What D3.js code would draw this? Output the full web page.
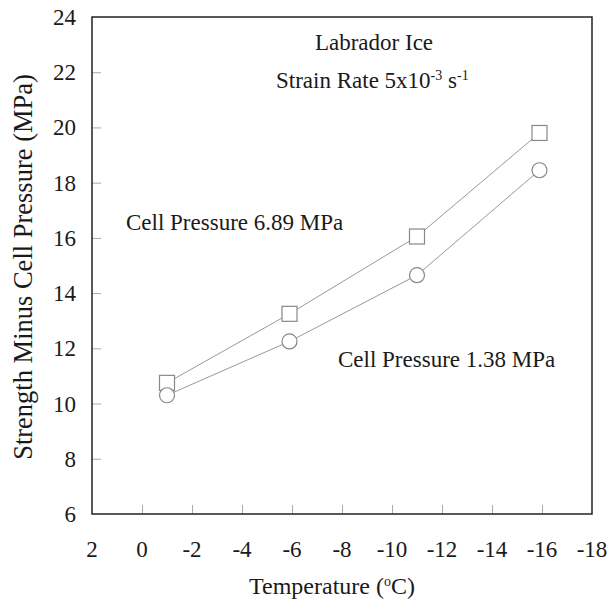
<!DOCTYPE html>
<html>
<head>
<meta charset="utf-8">
<script src="https://cdn.jsdelivr.net/npm/d3@7"></script>
<style>
  body { margin: 0; background: #fff; }
</style>
</head>
<body>
<div id="chart"></div>
<script>
// temperatures (deg C) of the tests
var temps = [-1, -5.9, -11, -15.9];
// strength minus cell pressure (MPa)
var highCell = [10.75, 13.25, 16.05, 19.8]; // cell pressure 6.89 MPa, squares
var lowCell = [10.3, 12.25, 14.65, 18.45];  // cell pressure 1.38 MPa, circles

var xTicks = [2, 0, -2, -4, -6, -8, -10, -12, -14, -16, -18];
var yTicks = [6, 8, 10, 12, 14, 16, 18, 20, 22, 24];

var width = 608;
var height = 603;
var fontSize = 23;

var svg = d3
  .select("#chart")
  .append("svg")
  .attr("width", width)
  .attr("height", height)
  .attr("font-family", "'Liberation Serif', 'Times New Roman', 'DejaVu Serif', serif")
  .attr("fill", "#1a1a1a");

var x = d3.scaleLinear().domain([2, -18]).range([92, 592]);
var y = d3.scaleLinear().domain([6, 24]).range([514, 17]);

// inner tick marks, light grey
var xAxis = d3.axisTop(x).tickValues(xTicks.slice(1, -1)).tickSize(9).tickFormat("");
var yAxis = d3.axisRight(y).tickValues(yTicks.slice(1, -1)).tickSize(9).tickFormat("");

svg.append("g")
  .attr("transform", "translate(0," + y(6) + ")")
  .call(xAxis)
  .call(g => g.select(".domain").remove())
  .selectAll("line").attr("stroke", "#aaa");

svg.append("g")
  .attr("transform", "translate(" + x(2) + ",0)")
  .call(yAxis)
  .call(g => g.select(".domain").remove())
  .selectAll("line").attr("stroke", "#aaa");

// frame
svg.append("rect")
  .attr("x", x(2))
  .attr("y", y(24))
  .attr("width", x(-18) - x(2))
  .attr("height", y(6) - y(24))
  .attr("fill", "none")
  .attr("stroke", "#222")
  .attr("stroke-width", 1.5);

// tick labels
svg.selectAll(".ylab")
  .data(yTicks)
  .enter()
  .append("text")
  .attr("class", "ylab")
  .attr("x", 76)
  .attr("y", d => y(d))
  .attr("dy", "0.35em")
  .attr("text-anchor", "end")
  .attr("font-size", fontSize)
  .text(d => d);

svg.selectAll(".xlab")
  .data(xTicks)
  .enter()
  .append("text")
  .attr("class", "xlab")
  .attr("x", d => x(d))
  .attr("y", 557)
  .attr("text-anchor", "middle")
  .attr("font-size", fontSize)
  .text(d => d);

// axis titles
var xt = svg.append("text")
  .attr("x", 332)
  .attr("y", 594)
  .attr("text-anchor", "middle")
  .attr("font-size", 24);
xt.append("tspan").text("Temperature (");
xt.append("tspan").attr("dy", -8).attr("font-size", 14).text("o");
xt.append("tspan").attr("dy", 8).text("C)");

svg.append("text")
  .attr("transform", "translate(32,267) rotate(-90)")
  .attr("text-anchor", "middle")
  .attr("font-size", 26.5)
  .text("Strength Minus Cell Pressure (MPa)");

// lines
var line = d3.line()
  .x((d, i) => x(temps[i]))
  .y(d => y(d));

svg.append("path")
  .datum(highCell)
  .attr("d", line)
  .attr("fill", "none")
  .attr("stroke", "#999")
  .attr("stroke-width", 1);

svg.append("path")
  .datum(lowCell)
  .attr("d", line)
  .attr("fill", "none")
  .attr("stroke", "#999")
  .attr("stroke-width", 1);

// markers
var sq = 15;
svg.selectAll(".sq")
  .data(highCell)
  .enter()
  .append("rect")
  .attr("class", "sq")
  .attr("x", (d, i) => x(temps[i]) - sq / 2)
  .attr("y", d => y(d) - sq / 2)
  .attr("width", sq)
  .attr("height", sq)
  .attr("fill", "#fff")
  .attr("stroke", "#888")
  .attr("stroke-width", 1.2);

svg.selectAll(".circ")
  .data(lowCell)
  .enter()
  .append("circle")
  .attr("class", "circ")
  .attr("cx", (d, i) => x(temps[i]))
  .attr("cy", d => y(d))
  .attr("r", 7.5)
  .attr("fill", "#fff")
  .attr("stroke", "#888")
  .attr("stroke-width", 1.2);

// annotations
svg.append("text")
  .attr("x", 374)
  .attr("y", 50)
  .attr("text-anchor", "middle")
  .attr("font-size", fontSize)
  .text("Labrador Ice");

var sr = svg.append("text")
  .attr("x", 276)
  .attr("y", 88)
  .attr("font-size", fontSize);
sr.append("tspan").text("Strain Rate 5x10");
sr.append("tspan").attr("dy", -8).attr("font-size", 14).text("-3");
sr.append("tspan").attr("dy", 8).text(" s");
sr.append("tspan").attr("dy", -8).attr("font-size", 14).text("-1");

svg.append("text")
  .attr("x", 126)
  .attr("y", 230)
  .attr("font-size", fontSize)
  .text("Cell Pressure 6.89 MPa");

svg.append("text")
  .attr("x", 338)
  .attr("y", 367)
  .attr("font-size", fontSize)
  .text("Cell Pressure 1.38 MPa");
</script>
</body>
</html>
